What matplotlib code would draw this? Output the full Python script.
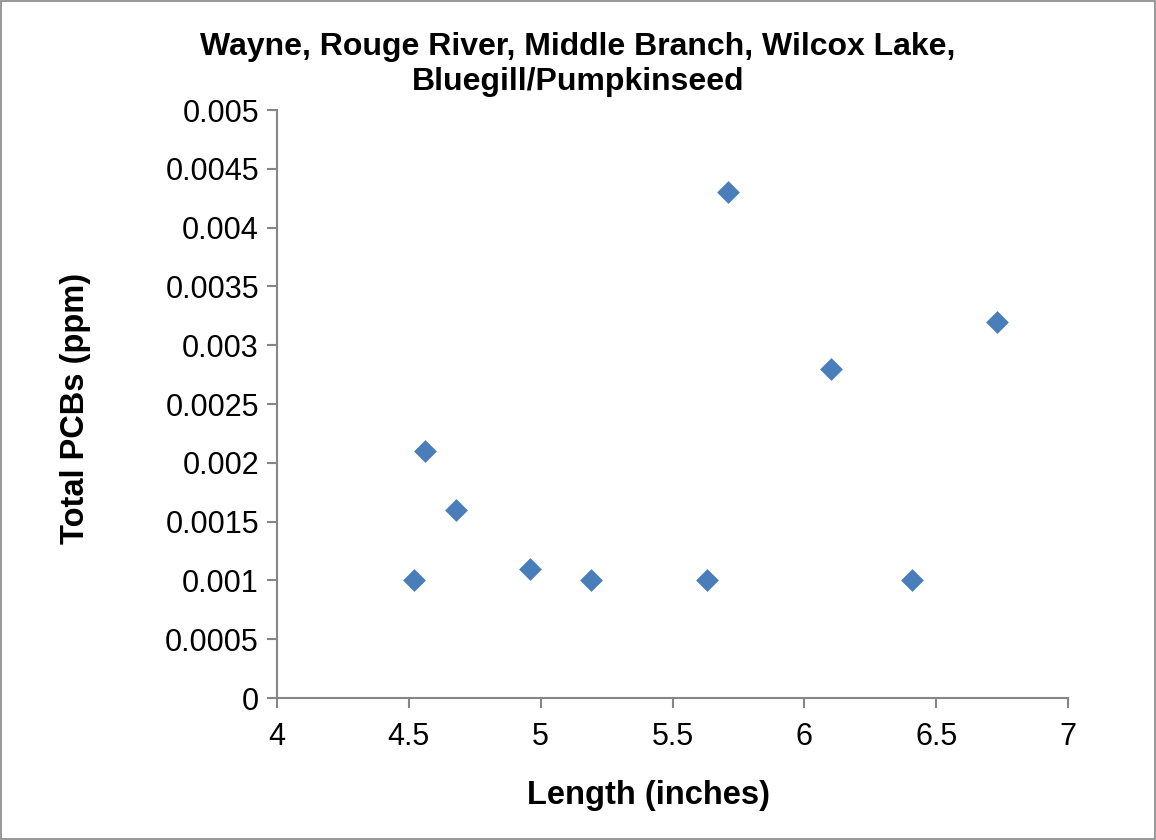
import matplotlib.pyplot as plt
from matplotlib.patches import Rectangle

plt.rcParams['font.family'] = ['Liberation Sans', 'DejaVu Sans']

# Fish length (inches) vs total PCBs (ppm)
length = [4.52, 4.56, 4.68, 4.96, 5.19, 5.63, 5.71, 6.10, 6.41, 6.73]
pcbs = [0.001, 0.0021, 0.0016, 0.0011, 0.001, 0.001, 0.0043, 0.0028, 0.001, 0.0032]

xticks = [4, 4.5, 5, 5.5, 6, 6.5, 7]
yticks = [0, 0.0005, 0.001, 0.0015, 0.002, 0.0025, 0.003, 0.0035, 0.004, 0.0045, 0.005]
ytick_labels = ["0", "0.0005", "0.001", "0.0015", "0.002", "0.0025", "0.003",
                "0.0035", "0.004", "0.0045", "0.005"]

fig = plt.figure(figsize=(11.56, 8.4), dpi=100)
ax = fig.add_axes([0.2396, 0.169, 0.6843, 0.700])

ax.scatter(length, pcbs, marker='D', s=135, color='#4a7ebb', zorder=3, linewidths=0)

ax.set_xlim(4, 7)
ax.set_ylim(0, 0.005)
ax.set_xticks(xticks)
ax.set_xticklabels([f"{t:g}" for t in xticks])
ax.set_yticks(yticks)
ax.set_yticklabels(ytick_labels)

for side in ['top', 'right']:
    ax.spines[side].set_visible(False)
for side in ['left', 'bottom']:
    ax.spines[side].set_color('#868686')
    ax.spines[side].set_linewidth(1.5)
ax.tick_params(direction='out', length=7, width=1.5, color='#868686',
               labelsize=22, labelcolor='black', pad=6)
ax.tick_params(axis='x', pad=10)

fig.text(0.5, 0.923, "Wayne, Rouge River, Middle Branch, Wilcox Lake,\nBluegill/Pumpkinseed",
         ha='center', va='center', fontsize=23, fontweight='bold', linespacing=1.2)
fig.text(0.561, 0.053, "Length (inches)", ha='center', va='center',
         fontsize=23.5, fontweight='bold')
fig.text(0.065, 0.514, "Total PCBs (ppm)", ha='center', va='center',
         rotation=90, fontsize=23.5, fontweight='bold')

# thin grey border around the chart area
fig.patches.append(Rectangle((0.001, 0.001), 0.998, 0.998, transform=fig.transFigure,
                             fill=False, edgecolor='#868686', linewidth=1.2))

fig.savefig('out.png', dpi=100)
